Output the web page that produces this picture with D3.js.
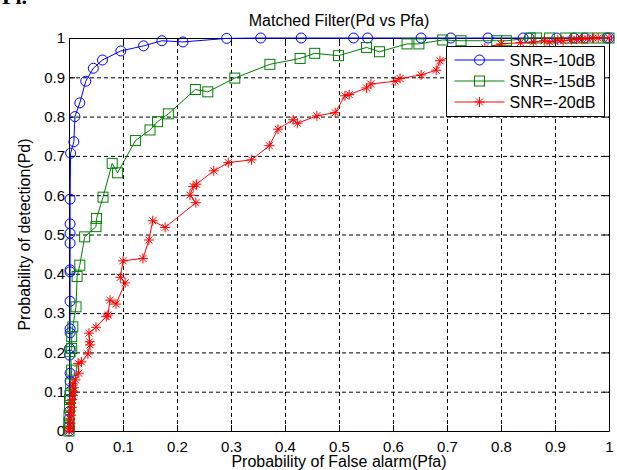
<!DOCTYPE html>
<html>
<head>
<meta charset="utf-8">
<script src="https://cdn.jsdelivr.net/npm/d3@7"></script>
<style>
  body { margin: 0; background: #fff; }
  svg { display: block; font-family: "Liberation Sans", Arial, sans-serif; }
</style>
</head>
<body>
<div id="chart"></div>
<script>
// values, [Pfa, Pd]
var snr10 = [[0,0],[0,0.01],[0,0.03],[0.001,0.05],[0.001,0.08],[0.002,0.10],[0.002,0.127],[0.002,0.147],
  [0.001,0.193],[0.001,0.21],[0.002,0.25],[0.002,0.26],[0.002,0.33],[0.002,0.405],[0.002,0.41],
  [0.002,0.478],[0.002,0.503],[0.002,0.527],[0.002,0.59],[0.003,0.707],[0.009,0.736],[0.011,0.80],
  [0.02,0.835],[0.031,0.89],[0.045,0.923],[0.062,0.944],[0.096,0.967],[0.138,0.98],[0.172,0.993],
  [0.211,0.99],[0.292,0.999],[0.355,1],[0.43,1],[0.527,1],[0.553,1],[0.652,1],[0.707,1],[0.776,1],
  [0.841,1],[0.852,1],[0.903,1],[0.935,1],[0.955,1],[0.996,1],[1,1]];

var snr15 = [[0,0],[0,0.01],[0,0.02],[0,0.04],[0.001,0.06],[0.001,0.08],[0.002,0.09],[0.003,0.12],
  [0.005,0.155],[0.002,0.202],[0.005,0.21],[0.005,0.24],[0.007,0.265],[0.013,0.316],[0.015,0.393],
  [0.02,0.422],[0.029,0.494],[0.05,0.52],[0.051,0.541],[0.063,0.595],[0.08,0.681],[0.09,0.657],
  [0.123,0.739],[0.15,0.766],[0.164,0.787],[0.184,0.807],[0.234,0.869],[0.257,0.863],[0.307,0.898],
  [0.372,0.933],[0.428,0.948],[0.455,0.961],[0.499,0.955],[0.551,0.976],[0.575,0.965],[0.626,0.985],
  [0.648,0.985],[0.692,0.995],[0.726,0.993],[0.792,0.993],[0.81,0.993],[0.854,1],[0.866,1],[0.89,1],
  [0.92,1],[0.94,1],[0.96,1],[0.98,1],[1,1]];

var snr20 = [[0,0],[0.001,0.005],[0.002,0.01],[0.003,0.02],[0.002,0.03],[0.004,0.04],[0.003,0.05],
  [0.005,0.06],[0.004,0.07],[0.006,0.08],[0.007,0.09],[0.008,0.10],[0.009,0.11],[0.007,0.12],
  [0.012,0.13],[0.018,0.147],[0.017,0.172],[0.023,0.176],[0.035,0.196],[0.039,0.219],[0.038,0.227],
  [0.037,0.249],[0.05,0.264],[0.069,0.291],[0.072,0.295],[0.076,0.333],[0.087,0.323],[0.104,0.377],
  [0.095,0.391],[0.1,0.433],[0.137,0.439],[0.148,0.486],[0.155,0.535],[0.178,0.518],[0.235,0.581],
  [0.224,0.60],[0.23,0.622],[0.236,0.628],[0.268,0.662],[0.295,0.683],[0.338,0.69],[0.371,0.726],
  [0.387,0.768],[0.415,0.792],[0.423,0.783],[0.459,0.802],[0.493,0.81],[0.511,0.853],[0.519,0.856],
  [0.551,0.873],[0.559,0.883],[0.604,0.89],[0.613,0.897],[0.652,0.906],[0.68,0.918],[0.687,0.942],
  [0.72,0.96],[0.77,0.975],[0.80,0.985],[0.836,0.988],[0.86,0.99],[0.88,0.993],[0.89,0.99],
  [0.905,0.995],[0.915,0.993],[0.93,0.995],[0.94,0.997],[0.95,0.997],[0.96,0.998],[0.97,1],
  [0.98,1],[1,1]];

var seriesNames = ["SNR=-10dB", "SNR=-15dB", "SNR=-20dB"];
var xTicks = [0, 0.1, 0.2, 0.3, 0.4, 0.5, 0.6, 0.7, 0.8, 0.9, 1];
var yTicks = [0, 0.1, 0.2, 0.3, 0.4, 0.5, 0.6, 0.7, 0.8, 0.9, 1];
var tickLabels = ["0", "0.1", "0.2", "0.3", "0.4", "0.5", "0.6", "0.7", "0.8", "0.9", "1"];

var series = [
  {name: seriesNames[0], values: snr10, color: "#0000ff", marker: "circle"},
  {name: seriesNames[1], values: snr15, color: "#008000", marker: "square"},
  {name: seriesNames[2], values: snr20, color: "#ff0000", marker: "star"}
];

var W = 617, H = 470;
var margin = {top: 38, right: 8, bottom: 39, left: 69},
    width = W - margin.left - margin.right,
    height = H - margin.top - margin.bottom;

var svg = d3.select("#chart").append("svg")
    .attr("width", W).attr("height", H);

// fragment of a caption above the figure
svg.append("text")
   .attr("x", 2).attr("y", 4)
   .style("font-family", "'Liberation Serif', serif")
   .style("font-size", "22px")
   .style("font-weight", "bold")
   .text("Pl.");

var g = svg.append("g")
    .attr("transform", "translate(" + margin.left + "," + margin.top + ")");

var x = d3.scaleLinear().domain([0, 1]).range([0, width]);
var y = d3.scaleLinear().domain([0, 1]).range([height, 0]);

var fmt = function(d) { return tickLabels[xTicks.indexOf(d)]; };

// grid
g.append("g")
   .attr("class", "grid")
   .attr("transform", "translate(0," + height + ")")
   .call(d3.axisBottom(x).tickValues(xTicks.slice(1, -1)).tickSize(-height).tickFormat(""))
   .call(function(s) { s.select(".domain").remove(); });
g.append("g")
   .attr("class", "grid")
   .call(d3.axisLeft(y).tickValues(yTicks.slice(1, -1)).tickSize(-width).tickFormat(""))
   .call(function(s) { s.select(".domain").remove(); });
g.selectAll(".grid line")
   .attr("stroke", "#000")
   .attr("stroke-dasharray", "4,3");

// box + inward ticks on all sides
g.append("g")
   .attr("transform", "translate(0," + height + ")")
   .call(d3.axisBottom(x).tickValues(xTicks).tickSizeInner(-6).tickSizeOuter(0).tickPadding(10).tickFormat(fmt));
g.append("g")
   .call(d3.axisTop(x).tickValues(xTicks).tickSizeInner(-6).tickSizeOuter(0).tickFormat(""));
g.append("g")
   .call(d3.axisLeft(y).tickValues(yTicks).tickSizeInner(-6).tickSizeOuter(0).tickPadding(4).tickFormat(function(d) { return tickLabels[yTicks.indexOf(d)]; }));
g.append("g")
   .attr("transform", "translate(" + width + ",0)")
   .call(d3.axisRight(y).tickValues(yTicks).tickSizeInner(-6).tickSizeOuter(0).tickFormat(""));

g.selectAll(".tick text")
   .style("font-size", "15px")
   .style("font-family", "'Liberation Sans', Arial, sans-serif")
   .attr("fill", "#000");

var line = d3.line()
    .x(function(d) { return x(d[0]); })
    .y(function(d) { return y(d[1]); });

var star = "M-5,0H5M0,-5V5M-3.5,-3.5L3.5,3.5M-3.5,3.5L3.5,-3.5";

function drawMarker(sel, s) {
  if (s.marker == "circle") {
    sel.append("circle").attr("r", 5);
  } else if (s.marker == "square") {
    sel.append("rect").attr("x", -5).attr("y", -5).attr("width", 10).attr("height", 10);
  } else {
    sel.append("path").attr("d", star);
  }
  sel.selectAll("*")
     .attr("fill", "none")
     .attr("stroke", s.color)
     .attr("stroke-width", 1);
}

series.forEach(function(s) {
  var sg = g.append("g");
  sg.append("path")
    .attr("d", line(s.values))
    .attr("fill", "none")
    .attr("stroke", s.color)
    .attr("stroke-width", 1);
  sg.selectAll(".pt")
    .data(s.values)
    .enter().append("g")
      .attr("class", "pt")
      .attr("transform", function(d) { return "translate(" + x(d[0]) + "," + y(d[1]) + ")"; })
      .each(function() { drawMarker(d3.select(this), s); });
});

// titles
svg.append("text")
   .attr("x", margin.left + width / 2).attr("y", 26)
   .attr("text-anchor", "middle")
   .style("font-size", "16px")
   .text("Matched Filter(Pd vs Pfa)");

svg.append("text")
   .attr("x", margin.left + width / 2).attr("y", 467)
   .attr("text-anchor", "middle")
   .style("font-size", "16px")
   .text("Probability of False alarm(Pfa)");

svg.append("text")
   .attr("transform", "translate(30," + (margin.top + height / 2) + ") rotate(-90)")
   .attr("text-anchor", "middle")
   .style("font-size", "16px")
   .text("Probability of detection(Pd)");

// legend
var legend = svg.append("g").attr("transform", "translate(446.5,46.5)");
legend.append("rect")
   .attr("width", 158).attr("height", 70)
   .attr("fill", "#fff")
   .attr("stroke", "#000");

series.forEach(function(s, i) {
  var row = legend.append("g").attr("transform", "translate(0," + (13.5 + i * 21) + ")");
  row.append("line")
     .attr("x1", 8).attr("x2", 58)
     .attr("stroke", s.color);
  drawMarker(row.append("g").attr("transform", "translate(33,0)"), s);
  row.append("text")
     .attr("x", 63).attr("y", 5.5)
     .style("font-size", "16px")
     .text(s.name);
});
</script>
</body>
</html>
